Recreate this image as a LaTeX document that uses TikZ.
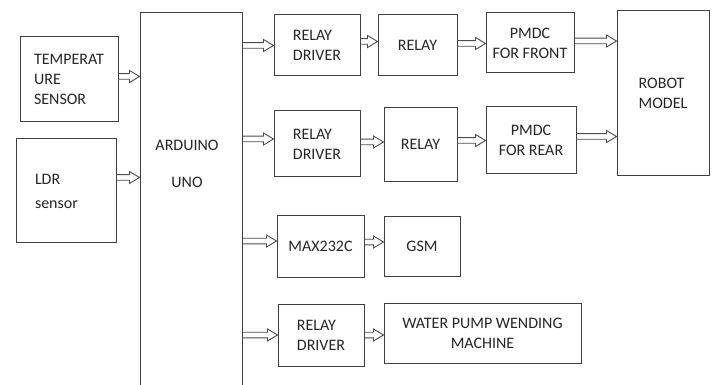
\documentclass[tikz,border=0pt]{standalone}
\usepackage{fontspec}
\setmainfont{Carlito}
\usetikzlibrary{calc}

\tikzset{
    box/.style={draw=black!75, line width=1pt, fill=white, inner sep=2pt, text=black!85,
        font=\fontsize{16}{20}\selectfont},
    % hollow block arrow from start to target (kept at the start's height)
    flow/.style={draw=black!70, line width=0.9pt, line join=miter,
        to path={let \p1=(\tikztostart), \p2=(\tikztotarget) in
            (\x1,{\y1+2.8pt}) -- ({\x2-10pt},{\y1+2.8pt}) -- ({\x2-10pt},{\y1+6pt})
            -- (\x2,\y1) -- ({\x2-10pt},{\y1-6pt}) -- ({\x2-10pt},{\y1-2.8pt})
            -- (\x1,{\y1-2.8pt}) \tikztonodes}},
    up/.style={transform canvas={yshift=#1}}
}

\begin{document}
\begin{tikzpicture}[x=1pt, y=-1pt]
    \useasboundingbox[fill=white] (0,0) rectangle (715,385);

    % Inputs
    \node[box, minimum width=98pt, minimum height=85pt, align=left] (temp) at (69,79.5) {TEMPERAT\\URE\\SENSOR};
    \node[box, minimum width=100pt, minimum height=103pt, text width=62pt, align=left] (ldr) at (66,190.5) {\\[-8pt]LDR\\[4pt]sensor};

    % Controller (runs past the lower edge)
    \node[box, minimum width=102pt, minimum height=390pt] (uno) at (191,208) {};
    \node[font=\fontsize{16}{20}\selectfont, text=black!85, align=center] (unotext) at (187,164) {ARDUINO\\[17pt]UNO};

    % Front motor chain
    \node[box, minimum width=86pt, minimum height=61pt, align=left] (drvA) at (317,45.5) {RELAY\\DRIVER};
    \node[box, minimum width=79pt, minimum height=61pt] (relA) at (417.5,45.5) {RELAY};
    \node[box, minimum width=88pt, minimum height=60pt, align=center] (front) at (530,43) {PMDC\\FOR FRONT};
    \node[box, minimum width=92pt, minimum height=165pt, align=left] (robot) at (663,93.5) {ROBOT\\MODEL};

    % Rear motor chain
    \node[box, minimum width=86pt, minimum height=66pt, align=left] (drvB) at (317,144) {RELAY\\DRIVER};
    \node[box, minimum width=73pt, minimum height=73pt] (relB) at (420.5,144.5) {RELAY};
    \node[box, minimum width=90pt, minimum height=67pt, align=center] (rear) at (531,140.5) {PMDC\\FOR REAR};

    % GSM link
    \node[box, minimum width=87pt, minimum height=62pt] (max) at (320.5,246) {MAX232C};
    \node[box, minimum width=76pt, minimum height=60pt] (gsm) at (422,246) {GSM};

    % Pump
    \node[box, minimum width=86pt, minimum height=62pt, align=left] (drvC) at (321,335) {RELAY\\DRIVER};
    \node[box, minimum width=197pt, minimum height=60pt, align=center] (pump) at (482.5,333) {WATER PUMP WENDING\\MACHINE};

    % Arrows
    \draw[flow, up=3pt] (temp.east) to (uno.west |- temp.east);
    \draw[flow, up=13pt] (ldr.east) to (uno.west |- ldr.east);
    \draw[flow] (uno.east |- drvA.west) to (drvA.west);
    \draw[flow, up=5pt] (uno.east |- drvB.west) to (drvB.west);
    \draw[flow, up=5pt] (uno.east |- max.west) to (max.west);
    \draw[flow] (uno.east |- drvC.west) to (drvC.west);
    \draw[flow, up=4pt] (drvA.east) to (relA.west |- drvA.east);
    \draw[flow, up=2pt] (relA.east) to (front.west |- relA.east);
    \draw[flow, up=2pt] (front.east) to (robot.west |- front.east);
    \draw[flow, up=2pt] (drvB.east) to (relB.west |- drvB.east);
    \draw[flow] (relB.east |- rear.west) to (rear.west);
    \draw[flow, up=4pt] (rear.east) to (robot.west |- rear.east);
    \draw[flow, up=4pt] (max.east) to (gsm.west |- max.east);
    \draw[flow] (drvC.east) to (pump.west |- drvC.east);
\end{tikzpicture}
\end{document}
